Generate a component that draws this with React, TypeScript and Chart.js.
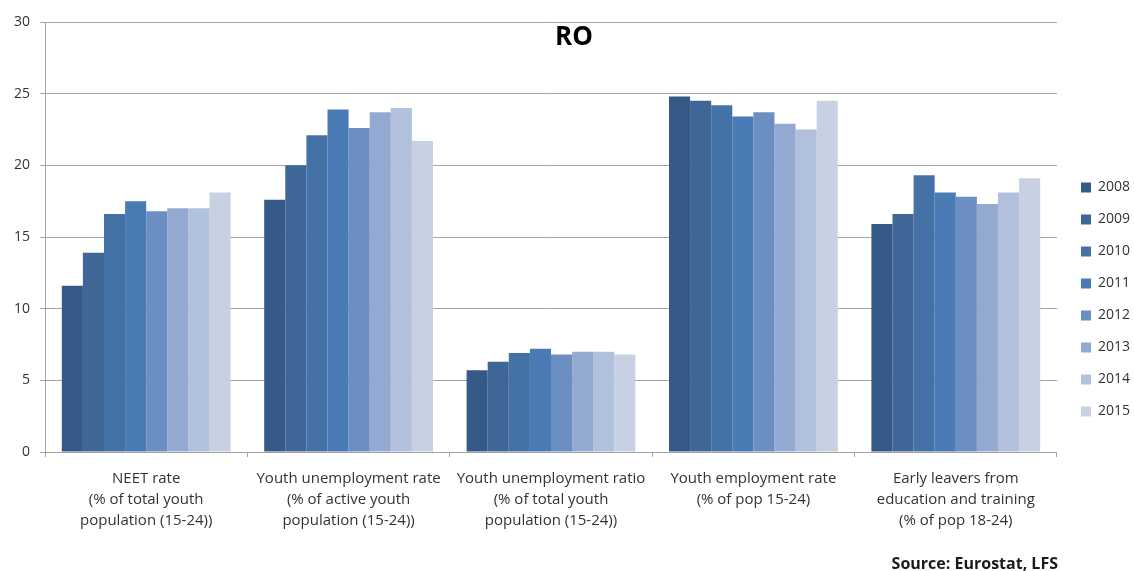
import React, { useEffect, useRef } from "react";
import { Chart, registerables } from "chart.js";

Chart.register(...registerables);

const categories: string[][] = [
  ["NEET rate", "(% of total youth", "population (15-24))"],
  ["Youth unemployment rate", "(% of active youth", "population (15-24))"],
  ["Youth unemployment ratio", "(% of total youth", "population (15-24))"],
  ["Youth employment rate", "(% of pop 15-24)"],
  ["Early leavers from", "education and training", "(% of pop 18-24)"],
];

const years = ["2008", "2009", "2010", "2011", "2012", "2013", "2014", "2015"];

const v2008 = [11.6, 17.6, 5.7, 24.8, 15.9];
const v2009 = [13.9, 20.0, 6.3, 24.5, 16.6];
const v2010 = [16.6, 22.1, 6.9, 24.2, 19.3];
const v2011 = [17.5, 23.9, 7.2, 23.4, 18.1];
const v2012 = [16.8, 22.6, 6.8, 23.7, 17.8];
const v2013 = [17.0, 23.7, 7.0, 22.9, 17.3];
const v2014 = [17.0, 24.0, 7.0, 22.5, 18.1];
const v2015 = [18.1, 21.7, 6.8, 24.5, 19.1];

const seriesValues = [v2008, v2009, v2010, v2011, v2012, v2013, v2014, v2015];

const colors = [
  "#365a87",
  "#3e6697",
  "#4472a6",
  "#4a7bb5",
  "#6b8fc3",
  "#94a9d1",
  "#b0c0dd",
  "#c8d1e4",
];

const yTicks = [0, 5, 10, 15, 20, 25, 30];

const titleText = "RO";
const sourceText = "Source: Eurostat, LFS";

const FONT = '"Open Sans", "Liberation Sans", sans-serif';
const TEXT = "#333333";
const GRID = "#a3a3a3";

export default function App() {
  const ref = useRef<HTMLCanvasElement | null>(null);

  useEffect(() => {
    if (!ref.current) return;
    const extras = {
      id: "extras",
      afterLayout(chart: any) {
        const lg = chart.legend;
        if (lg) {
          const dx = 1081 - (lg.left + 18);
          lg.left += dx;
          lg.right += dx;
          lg.top += 3;
          lg.bottom += 3;
        }
      },
      afterDraw(chart: any) {
        const ctx = chart.ctx;
        ctx.save();
        ctx.fillStyle = "#000000";
        ctx.font = `bold 26px ${FONT}`;
        ctx.textAlign = "center";
        ctx.textBaseline = "middle";
        ctx.fillText(titleText, 574, 38);
        ctx.font = `bold 16px ${FONT}`;
        ctx.textAlign = "right";
        ctx.fillStyle = "#1a1a1a";
        ctx.fillText(sourceText, 1058, 564);
        ctx.restore();
      },
    };

    const chart = new Chart(ref.current, {
      type: "bar",
      data: {
        labels: categories,
        datasets: years.map((y, i) => ({
          label: y,
          data: seriesValues[i],
          backgroundColor: colors[i],
          borderWidth: 0,
          categoryPercentage: 0.834,
          barPercentage: 1.0,
        })),
      },
      options: {
        responsive: false,
        animation: false,
        devicePixelRatio: 1,
        layout: { padding: { top: 22, right: 0, bottom: 0, left: 0 } },
        plugins: {
          title: { display: false },
          tooltip: { enabled: false },
          legend: {
            position: "right",
            align: "center",
            labels: {
              boxWidth: 10,
              boxHeight: 10,
              padding: 18,
              color: TEXT,
              font: { family: FONT, size: 14 },
            },
          },
        },
        scales: {
          x: {
            offset: true,
            afterFit: (s: any) => {
              s.height = 119;
            },
            grid: {
              offset: true,
              drawOnChartArea: false,
              drawTicks: true,
              tickLength: 5,
              color: GRID,
            },
            border: { color: GRID, width: 1 },
            ticks: {
              autoSkip: false,
              maxRotation: 0,
              minRotation: 0,
              padding: 11,
              color: TEXT,
              font: { family: FONT, size: 15, lineHeight: 1.4 },
            },
          },
          y: {
            min: 0,
            max: 30,
            afterFit: (s: any) => {
              s.width = 45;
            },
            afterBuildTicks: (s: any) => {
              s.ticks = yTicks.map((v) => ({ value: v }));
            },
            grid: {
              color: GRID,
              tickLength: 5,
              drawTicks: true,
            },
            border: { color: GRID, width: 1 },
            ticks: {
              padding: 10,
              color: TEXT,
              font: { family: FONT, size: 14 },
            },
          },
        },
      },
      plugins: [extras],
    });
    return () => chart.destroy();
  }, []);

  return (
    <div
      style={{
        position: "fixed",
        left: 0,
        top: 0,
        width: 1134,
        height: 571,
        background: "#ffffff",
      }}
    >
      <canvas ref={ref} width={1134} height={571} />
    </div>
  );
}
